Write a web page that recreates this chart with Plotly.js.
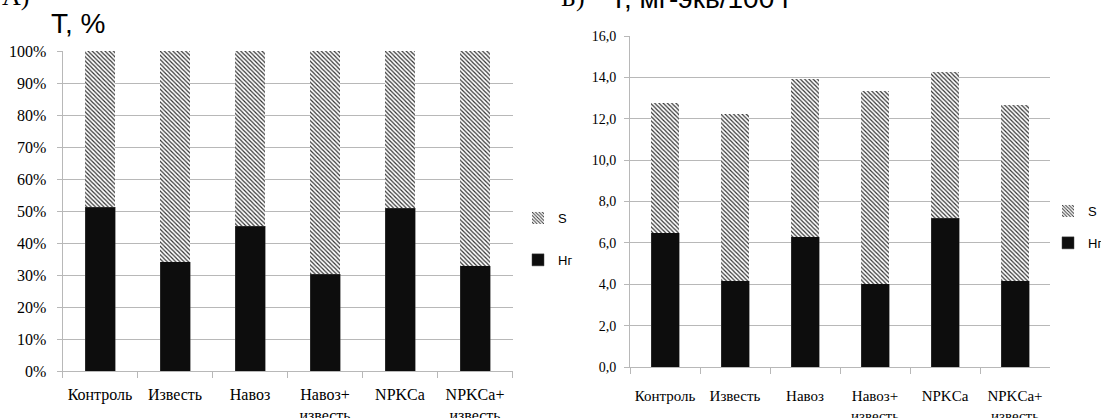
<!DOCTYPE html>
<html><head><meta charset="utf-8">
<script src="https://cdn.plot.ly/plotly-3.0.1.min.js"></script>
<style>html,body{margin:0;padding:0;background:#fff}#chart{width:1101px;height:418px}</style>
</head><body><div id="chart"></div>
<script>
// ---- data ----
const categories = ['Контроль', 'Известь', 'Навоз', 'Навоз+<br>известь', 'NPKCa', 'NPKCa+<br>известь'];
const hgPercent = [51.1, 34.1, 45.2, 30.3, 50.8, 32.9];
const sPercent  = [48.9, 65.9, 54.8, 69.7, 49.2, 67.1];
const hgValue   = [6.50, 4.16, 6.30, 4.03, 7.19, 4.16];
const sValue    = [6.26, 8.08, 7.64, 9.33, 7.09, 8.52];
const seriesNames = ['Нг', 'S'];

// ---- layout helpers ----
const W = 1101, H = 418;
const px = x => x / W;
const py = y => 1 - y / H;

const serif = "'Liberation Serif', 'Times New Roman', Times, serif";
const sans = "'Liberation Sans', Arial, sans-serif";
const gridCol = '#b8b8b8';

const hgMarker = {color: '#0d0d0d', line: {color: '#444', width: 0.5}};
const sMarker = {color: '#ffffff', line: {width: 0},
  pattern: {shape: '\\', fgcolor: '#333', bgcolor: '#ffffff', size: 3, solidity: 0.4}};

const traces = [
  {type: 'bar', x: categories, y: hgPercent, name: seriesNames[0], xaxis: 'x', yaxis: 'y',
   marker: hgMarker, width: 0.4, legend: 'legend', legendgroup: 'a1', legendrank: 2},
  {type: 'bar', x: categories, y: sPercent, name: seriesNames[1], xaxis: 'x', yaxis: 'y',
   marker: sMarker, width: 0.4, legend: 'legend', legendgroup: 'a2', legendrank: 1},
  {type: 'bar', x: categories, y: hgValue, name: seriesNames[0], xaxis: 'x2', yaxis: 'y2',
   marker: hgMarker, width: 0.4, legend: 'legend2', legendgroup: 'b1', legendrank: 2},
  {type: 'bar', x: categories, y: sValue, name: seriesNames[1], xaxis: 'x2', yaxis: 'y2',
   marker: sMarker, width: 0.4, legend: 'legend2', legendgroup: 'b2', legendrank: 1}
];

const xCommon = {type: 'category', showgrid: false, zeroline: false, showline: true,
  linecolor: gridCol, linewidth: 1, ticks: 'outside', tickson: 'boundaries', tickangle: 0,
  ticklen: 6, tickcolor: gridCol};
const yCommon = {showgrid: true, gridcolor: gridCol, gridwidth: 1, zeroline: false,
  showline: true, linecolor: gridCol, linewidth: 1, ticks: 'outside', ticklen: 5,
  tickcolor: gridCol};

const layout = {
  width: W, height: H,
  margin: {l: 0, r: 0, t: 0, b: 0, autoexpand: false},
  paper_bgcolor: '#fff', plot_bgcolor: '#fff',
  font: {family: serif, size: 16, color: '#000'},
  barmode: 'stack',
  separators: ', ',
  xaxis: Object.assign({}, xCommon, {domain: [px(62.5), px(512.5)], anchor: 'y', ticklabelstandoff: 9,
    tickfont: {family: serif, size: 16, color: '#000'}}),
  yaxis: Object.assign({}, yCommon, {domain: [py(371), py(51)], anchor: 'x', ticklabelstandoff: 7,
    range: [0, 100], dtick: 10, ticksuffix: '%', tickfont: {family: serif, size: 16, color: '#000'}}),
  xaxis2: Object.assign({}, xCommon, {domain: [px(630), px(1050)], anchor: 'y2', ticklabelstandoff: 15,
    tickfont: {family: serif, size: 15, color: '#000'}}),
  yaxis2: Object.assign({}, yCommon, {domain: [py(367), py(36)], anchor: 'x2', ticklabelstandoff: 5,
    range: [0, 16], dtick: 2, tickformat: '.1f', tickfont: {family: serif, size: 14, color: '#000'}}),
  legend: {x: px(518), y: py(203), xanchor: 'left', yanchor: 'top', traceorder: 'grouped',
    tracegroupgap: 22, bgcolor: 'rgba(0,0,0,0)', font: {family: sans, size: 13, color: '#000'}},
  legend2: {x: px(1048), y: py(196), xanchor: 'left', yanchor: 'top', traceorder: 'grouped',
    tracegroupgap: 12, bgcolor: 'rgba(0,0,0,0)', font: {family: sans, size: 13, color: '#000'}},
  annotations: [
    {text: 'А)', xref: 'paper', yref: 'paper', x: px(0), y: py(13), xanchor: 'left', yanchor: 'bottom',
     showarrow: false, font: {family: serif, size: 26, color: '#000'}},
    {text: 'Т, %', xref: 'paper', yref: 'paper', x: px(49), y: py(41), xanchor: 'left', yanchor: 'bottom',
     showarrow: false, font: {family: sans, size: 28, color: '#000'}},
    {text: 'Б)', xref: 'paper', yref: 'paper', x: px(559), y: py(14), xanchor: 'left', yanchor: 'bottom',
     showarrow: false, font: {family: serif, size: 26, color: '#000'}},
    {text: 'Т, мг-экв/100 г', xref: 'paper', yref: 'paper', x: px(608), y: py(16), xanchor: 'left', yanchor: 'bottom',
     showarrow: false, font: {family: sans, size: 28, color: '#000'}}
  ]
};

Plotly.newPlot('chart', traces, layout, {displayModeBar: false, staticPlot: true});
</script>
</body></html>
